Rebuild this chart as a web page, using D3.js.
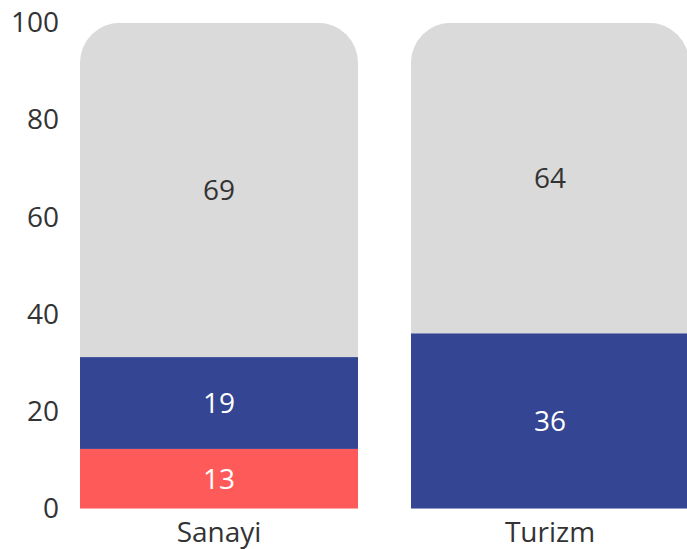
<!DOCTYPE html>
<html><head><meta charset="utf-8">
<script src="https://cdn.jsdelivr.net/npm/d3@7"></script>
<style>body{margin:0;background:#fff}svg{display:block}text{font-family:"Open Sans","Noto Sans",sans-serif}</style>
</head><body><div id="c"></div>
<script>
const categories = ["Sanayi", "Turizm"];
const seriesKeys = ["red", "blue", "grey"];
const redValues = [12.3, 0];
const blueValues = [18.9, 36.1];
const greyValues = [68.8, 63.9];
const redLabels = ["13", ""];
const blueLabels = ["19", "36"];
const greyLabels = ["69", "64"];
const yTicks = [0, 20, 40, 60, 80, 100];
const colors = {red: "#ff5a5a", blue: "#334593", grey: "#dadada"};
const textColors = {red: "#ffffff", blue: "#ffffff", grey: "#333333"};

const W = 687, H = 549;
const FS = 28;
const data = categories.map((c, i) => ({cat: c, red: redValues[i], blue: blueValues[i], grey: greyValues[i],
  labels: {red: redLabels[i], blue: blueLabels[i], grey: greyLabels[i]}}));

const svg = d3.select("#c").append("svg").attr("width", W).attr("height", H);
const x = d3.scaleBand().domain(categories).range([80, 689]).paddingInner(0.16).paddingOuter(0);
const y = d3.scaleLinear().domain([0, 100]).range([508.7, 22.7]);

const stack = d3.stack().keys(seriesKeys)(data);
const r = 40;
const defs = svg.append("defs");
categories.forEach((c, i) => {
  const x0 = x(c), x1 = x(c) + x.bandwidth(), yt = y(100), yb = y(0);
  defs.append("clipPath").attr("id", "clip" + i).append("path")
    .attr("d", `M${x0},${yb}V${yt + r}A${r},${r} 0 0 1 ${x0 + r},${yt}H${x1 - r}A${r},${r} 0 0 1 ${x1},${yt + r}V${yb}Z`);
});

const g = svg.append("g");
stack.forEach(layer => {
  layer.forEach((d, i) => {
    if (d[1] - d[0] <= 0) return;
    g.append("rect").attr("clip-path", `url(#clip${i})`)
      .attr("x", x(d.data.cat)).attr("width", x.bandwidth())
      .attr("y", y(d[1])).attr("height", y(d[0]) - y(d[1]))
      .attr("fill", colors[layer.key]);
    g.append("text").attr("x", x(d.data.cat) + x.bandwidth() / 2)
      .attr("y", (y(d[0]) + y(d[1])) / 2).attr("dy", "0.35em")
      .attr("text-anchor", "middle").attr("font-size", FS)
      .attr("fill", textColors[layer.key]).text(d.data.labels[layer.key]);
  });
});

const yAxis = svg.append("g").attr("transform", "translate(59,0)")
  .call(d3.axisLeft(y).tickValues(yTicks).tickSize(0).tickPadding(0));
yAxis.select(".domain").remove();
yAxis.selectAll("text").attr("font-size", FS).attr("fill", "#333").attr("font-family", '"Open Sans","Noto Sans",sans-serif');

const xAxis = svg.append("g").attr("transform", "translate(0,508.7)")
  .call(d3.axisBottom(x).tickSize(0).tickPadding(13));
xAxis.select(".domain").remove();
xAxis.selectAll("text").attr("font-size", FS).attr("fill", "#333").attr("font-family", '"Open Sans","Noto Sans",sans-serif');
</script></body></html>
